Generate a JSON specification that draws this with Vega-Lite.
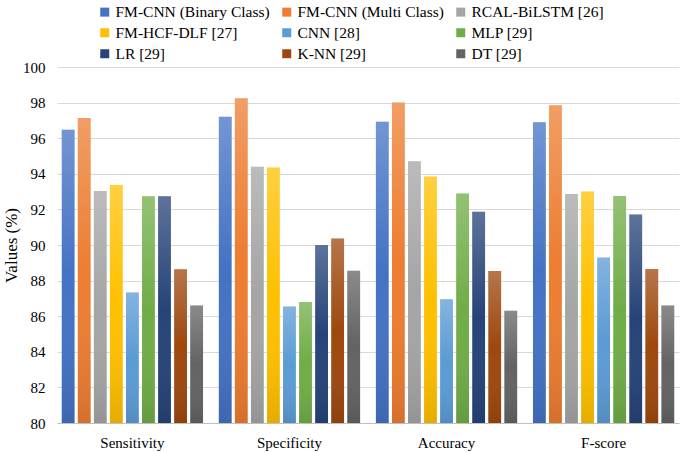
{
  "$schema": "https://vega.github.io/schema/vega-lite/v6.json",
  "autosize": "none",
  "width": 622,
  "height": 356,
  "padding": {"left": 57, "top": 67, "right": 6, "bottom": 29},
  "background": "white",
  "config": {
    "font": "Liberation Serif",
    "view": {"stroke": null},
    "axis": {"labelFont": "Liberation Serif", "titleFont": "Liberation Serif"},
    "legend": {"labelFont": "Liberation Serif"}
  },
  "datasets": {
    "scores": [
      {"metric": "Sensitivity", "model": "FM-CNN (Binary Class)", "value": 96.47},
      {"metric": "Sensitivity", "model": "FM-CNN (Multi Class)", "value": 97.13},
      {"metric": "Sensitivity", "model": "RCAL-BiLSTM [26]", "value": 93.03},
      {"metric": "Sensitivity", "model": "FM-HCF-DLF [27]", "value": 93.37},
      {"metric": "Sensitivity", "model": "CNN [28]", "value": 87.33},
      {"metric": "Sensitivity", "model": "MLP [29]", "value": 92.74},
      {"metric": "Sensitivity", "model": "LR [29]", "value": 92.74},
      {"metric": "Sensitivity", "model": "K-NN [29]", "value": 88.64},
      {"metric": "Sensitivity", "model": "DT [29]", "value": 86.6},
      {"metric": "Specificity", "model": "FM-CNN (Binary Class)", "value": 97.2},
      {"metric": "Specificity", "model": "FM-CNN (Multi Class)", "value": 98.25},
      {"metric": "Specificity", "model": "RCAL-BiLSTM [26]", "value": 94.4},
      {"metric": "Specificity", "model": "FM-HCF-DLF [27]", "value": 94.35},
      {"metric": "Specificity", "model": "CNN [28]", "value": 86.55},
      {"metric": "Specificity", "model": "MLP [29]", "value": 86.8},
      {"metric": "Specificity", "model": "LR [29]", "value": 90.0},
      {"metric": "Specificity", "model": "K-NN [29]", "value": 90.36},
      {"metric": "Specificity", "model": "DT [29]", "value": 88.55},
      {"metric": "Accuracy", "model": "FM-CNN (Binary Class)", "value": 96.93},
      {"metric": "Accuracy", "model": "FM-CNN (Multi Class)", "value": 98.0},
      {"metric": "Accuracy", "model": "RCAL-BiLSTM [26]", "value": 94.7},
      {"metric": "Accuracy", "model": "FM-HCF-DLF [27]", "value": 93.85},
      {"metric": "Accuracy", "model": "CNN [28]", "value": 86.95},
      {"metric": "Accuracy", "model": "MLP [29]", "value": 92.9},
      {"metric": "Accuracy", "model": "LR [29]", "value": 91.87},
      {"metric": "Accuracy", "model": "K-NN [29]", "value": 88.54},
      {"metric": "Accuracy", "model": "DT [29]", "value": 86.3},
      {"metric": "F-score", "model": "FM-CNN (Binary Class)", "value": 96.9},
      {"metric": "F-score", "model": "FM-CNN (Multi Class)", "value": 97.85},
      {"metric": "F-score", "model": "RCAL-BiLSTM [26]", "value": 92.86},
      {"metric": "F-score", "model": "FM-HCF-DLF [27]", "value": 93.0},
      {"metric": "F-score", "model": "CNN [28]", "value": 89.3},
      {"metric": "F-score", "model": "MLP [29]", "value": 92.75},
      {"metric": "F-score", "model": "LR [29]", "value": 91.71},
      {"metric": "F-score", "model": "K-NN [29]", "value": 88.65},
      {"metric": "F-score", "model": "DT [29]", "value": 86.6}
    ]
  },
  "data": {"name": "scores"},
  "encoding": {
    "x": {
      "field": "metric",
      "type": "nominal",
      "sort": ["Sensitivity", "Specificity", "Accuracy", "F-score"],
      "scale": {"paddingInner": 0.08, "paddingOuter": 0.02},
      "axis": {
        "title": null,
        "labelAngle": 0,
        "labelFont": "Liberation Serif",
        "labelFontSize": 15,
        "labelColor": "#000000",
        "labelPadding": 12,
        "ticks": false,
        "domainColor": "#bfbfbf",
        "domainWidth": 1
      }
    },
    "xOffset": {
      "field": "model",
      "type": "nominal",
      "sort": ["FM-CNN (Binary Class)", "FM-CNN (Multi Class)", "RCAL-BiLSTM [26]", "FM-HCF-DLF [27]", "CNN [28]", "MLP [29]", "LR [29]", "K-NN [29]", "DT [29]"],
      "scale": {"paddingInner": 0.2, "paddingOuter": 0.1}
    },
    "y": {
      "field": "value",
      "type": "quantitative",
      "scale": {"domain": [80, 100], "nice": false, "zero": false},
      "axis": {
        "title": "Values (%)",
        "titleFont": "Liberation Serif",
        "titleFontSize": 17,
        "titleFontWeight": "normal",
        "titleColor": "#000000",
        "titleX": -37,
        "titleY": 178,
        "values": [80, 82, 84, 86, 88, 90, 92, 94, 96, 98, 100],
        "labelFont": "Liberation Serif",
        "labelFontSize": 15,
        "labelColor": "#000000",
        "labelPadding": 12,
        "ticks": false,
        "domain": false,
        "gridColor": "#d9d9d9",
        "gridWidth": 1
      }
    },
    "y2": {"datum": 80}
  },
  "layer": [
    {
      "mark": {"type": "bar"},
      "encoding": {
        "color": {
          "field": "model",
          "type": "nominal",
          "sort": ["FM-CNN (Binary Class)", "FM-HCF-DLF [27]", "LR [29]", "FM-CNN (Multi Class)", "CNN [28]", "K-NN [29]", "RCAL-BiLSTM [26]", "MLP [29]", "DT [29]"],
          "scale": {
            "range": ["#4472C4", "#FFC000", "#264478", "#ED7D31", "#5B9BD5", "#9E480E", "#A5A5A5", "#70AD47", "#636363"]
          },
          "legend": {
            "title": null,
            "orient": "none",
            "legendX": 40,
            "legendY": -63,
            "columns": 3,
            "columnPadding": 9,
            "rowPadding": 4,
            "symbolType": "square",
            "symbolSize": 81,
            "symbolStrokeWidth": 0,
            "labelFont": "Liberation Serif",
            "labelFontSize": 15.5,
            "labelColor": "#000000",
            "labelOffset": 3,
            "labelLimit": 300,
            "padding": 0
          }
        }
      }
    },
    {
      "mark": {
        "type": "bar",
        "color": {
          "gradient": "linear",
          "x1": 0, "y1": 0, "x2": 0, "y2": 1,
          "stops": [
            {"offset": 0, "color": "rgba(255,255,255,0.25)"},
            {"offset": 0.5, "color": "rgba(255,255,255,0)"},
            {"offset": 1, "color": "rgba(0,0,0,0.1)"}
          ]
        }
      }
    }
  ]
}
